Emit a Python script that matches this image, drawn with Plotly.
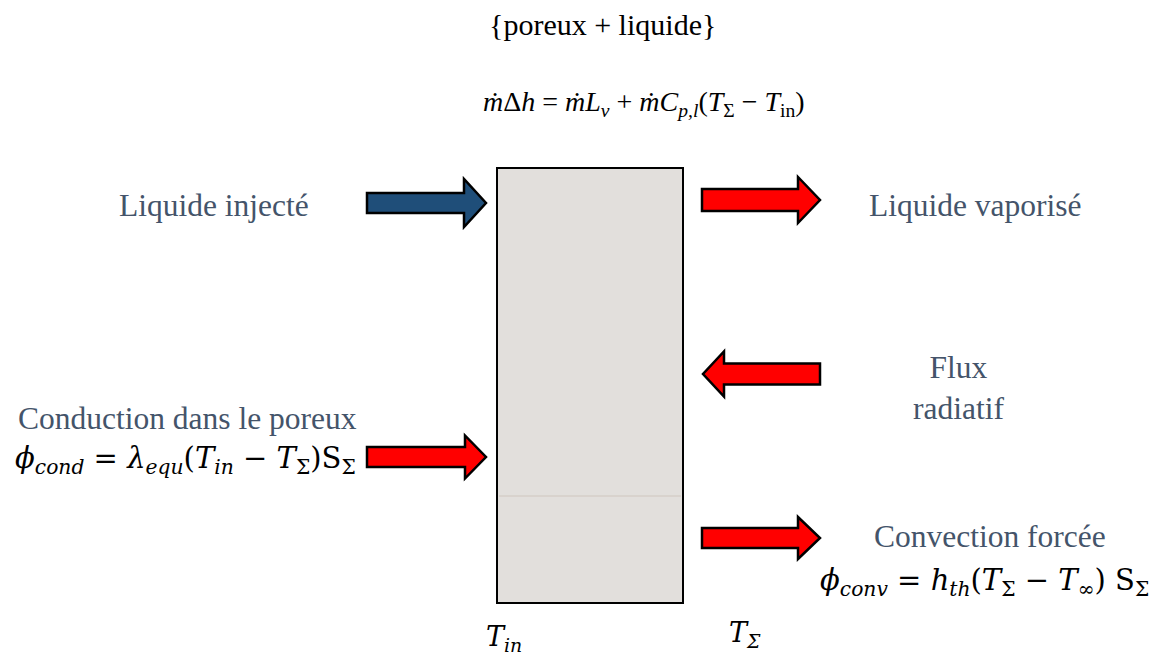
import plotly.graph_objects as go

W, H = 1158, 659
OFF = 8  # default page body margin of the html page

# ---- diagram content ----
title_text = "{poreux + liquide}"
balance_eq = ("<i>ṁ</i>Δ<i>h</i> = <i>ṁL</i><sub><i>v</i></sub> + "
              "<i>ṁC</i><sub><i>p,l</i></sub>(<i>T</i><sub>Σ</sub> − <i>T</i><sub>in</sub>)")
label_texts = ["Liquide injecté", "Liquide vaporisé", "Flux<br>radiatif",
               "Conduction dans le poreux", "Convection forcée"]
label_x = [214, 975, 958, 187, 990]
label_y = [205, 205, 388, 418, 536]

eq_texts = [
    "<i>ϕ</i><sub><i>cond</i></sub> = <i>λ</i><sub><i>equ</i></sub>(<i>T</i><sub><i>in</i></sub> − <i>T</i><sub>Σ</sub>)S<sub>Σ</sub>",
    "<i>ϕ</i><sub><i>conv</i></sub> = <i>h</i><sub><i>th</i></sub>(<i>T</i><sub>Σ</sub> − <i>T</i><sub>∞</sub>) S<sub>Σ</sub>",
    "<i>T</i><sub><i>in</i></sub>",
    "<i>T</i><sub><i>Σ</i></sub>",
]
eq_x = [185, 984, 504, 745]
eq_y = [460, 582, 638, 634]
eq_size = [29, 29, 27, 27]

# arrows: tail x, tip x, center y, body half-height, head half-height, head length, colour
arrow_tail = [367, 702, 820, 367, 702]
arrow_tip = [486, 820, 703, 486, 820]
arrow_cy = [203, 200, 374, 457, 538]
arrow_body = [10, 11, 10.5, 10, 10]
arrow_head = [24, 23, 22.5, 21.5, 21]
arrow_len = [22, 22, 21, 21, 22]
arrow_col = ["#1F4E79", "#FF0000", "#FF0000", "#FF0000", "#FF0000"]

# porous block
block_x = [497, 683]
block_y = [168, 603]
block_split_y = 496

LABEL_COLOR = "#44546A"
SERIF = "Liberation Serif"
MATH = "DejaVu Serif"

fig = go.Figure()
fig.add_trace(go.Scatter(x=[OFF, W], y=[OFF, H], mode="markers",
                         marker=dict(opacity=0), hoverinfo="skip", showlegend=False))

shapes = []
shapes.append(dict(type="rect", x0=block_x[0], x1=block_x[1], y0=block_y[0], y1=block_y[1],
                   fillcolor="#E2DFDC", line=dict(color="black", width=2), layer="below"))
shapes.append(dict(type="line", x0=block_x[0] + 2, x1=block_x[1] - 2, y0=block_split_y, y1=block_split_y,
                   line=dict(color="#CFC6BE", width=1)))

for t, p, cy, b, h, L, c in zip(arrow_tail, arrow_tip, arrow_cy, arrow_body, arrow_head, arrow_len, arrow_col):
    d = 1 if p > t else -1
    hx = p - d * L
    path = (f"M {t},{cy - b} L {hx},{cy - b} L {hx},{cy - h} L {p},{cy} "
            f"L {hx},{cy + h} L {hx},{cy + b} L {t},{cy + b} Z")
    shapes.append(dict(type="path", path=path, fillcolor=c, line=dict(color="black", width=2.5)))

ann = []
ann.append(dict(x=602, y=24, text=title_text, showarrow=False,
                font=dict(family=SERIF, size=30, color="black")))
ann.append(dict(x=644, y=103, text=balance_eq, showarrow=False,
                font=dict(family=SERIF, size=28, color="black")))
for t, x, y in zip(label_texts, label_x, label_y):
    ann.append(dict(x=x, y=y, text=t, showarrow=False,
                    font=dict(family=SERIF, size=31.5, color=LABEL_COLOR)))
for t, x, y, s in zip(eq_texts, eq_x, eq_y, eq_size):
    ann.append(dict(x=x, y=y, text=t, showarrow=False,
                    font=dict(family=MATH, size=s, color="black")))

fig.update_layout(
    width=W - OFF, height=H - OFF, margin=dict(l=0, r=0, t=0, b=0),
    paper_bgcolor="white", plot_bgcolor="white",
    xaxis=dict(range=[OFF, W], visible=False, fixedrange=True),
    yaxis=dict(range=[H, OFF], visible=False, fixedrange=True),
    shapes=shapes, annotations=ann, showlegend=False,
)
fig.write_html("out.html")
